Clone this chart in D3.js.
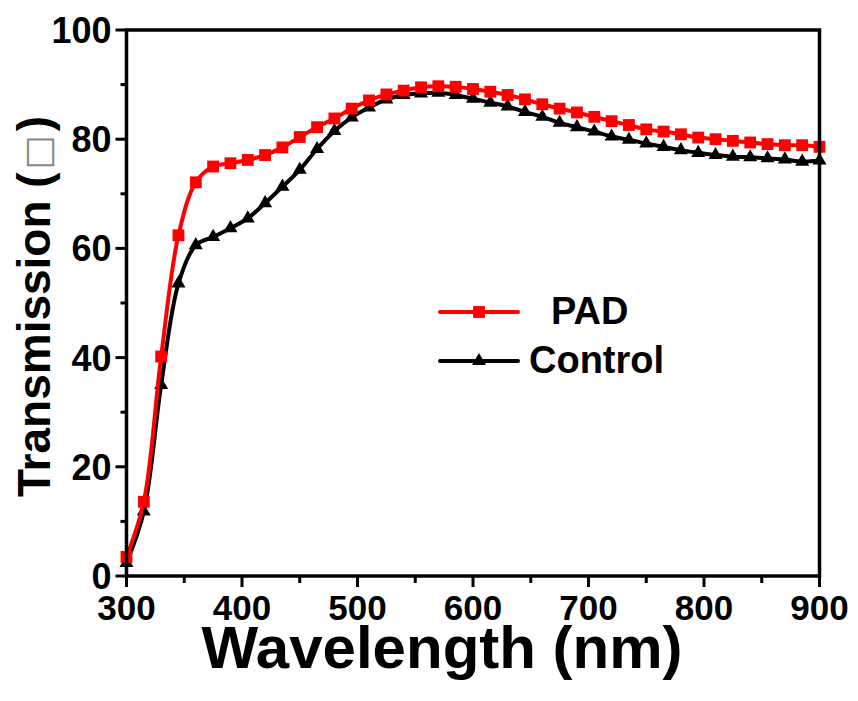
<!DOCTYPE html>
<html>
<head>
<meta charset="utf-8">
<script src="https://cdn.jsdelivr.net/npm/d3@7"></script>
<style>
  body { margin: 0; background: #fff; }
  svg { display: block; font-family: "Liberation Sans", Arial, sans-serif; font-weight: bold; }
</style>
</head>
<body>
<svg id="chart" width="858" height="701"></svg>
<script>
// wavelengths (nm), one marker every 15 nm
const wavelength = [300, 315, 330, 345, 360, 375, 390, 405, 420, 435, 450, 465, 480, 495, 510, 525, 540, 555, 570, 585,
  600, 615, 630, 645, 660, 675, 690, 705, 720, 735, 750, 765, 780, 795, 810, 825, 840, 855, 870, 885, 900];

const pad = [3.5, 13.6, 40.2, 62.4, 72.1, 75.0, 75.6, 76.2, 77.1, 78.5, 80.4, 82.2, 83.8, 85.6, 87.1, 88.2, 88.9, 89.5, 89.7, 89.6,
  89.2, 88.7, 88.1, 87.3, 86.4, 85.6, 84.9, 84.1, 83.3, 82.6, 81.8, 81.4, 80.9, 80.3, 80.0, 79.7, 79.4, 79.1, 78.9, 78.9, 78.6];

const control = [2.4, 11.8, 35.0, 53.6, 60.6, 62.1, 63.7, 65.5, 68.3, 71.3, 74.4, 78.2, 81.5, 84.0, 85.8, 87.3, 88.1, 88.4, 88.5, 88.1,
  87.4, 86.7, 86.0, 85.0, 84.1, 83.0, 82.2, 81.4, 80.5, 79.9, 79.2, 78.6, 78.0, 77.5, 77.1, 76.8, 76.7, 76.5, 76.3, 75.9, 76.1];

const xTicks = [300, 400, 500, 600, 700, 800, 900];
const yTicks = [0, 20, 40, 60, 80, 100];

const svg = d3.select('#chart');

const x = d3.scaleLinear().domain([300, 900]).range([126.5, 819.5]);
const y = d3.scaleLinear().domain([0, 100]).range([576, 30]);

const line = d3.line()
  .x(d => x(d[0]))
  .y(d => y(d[1]))
  .curve(d3.curveCatmullRom);

const series = [
  { name: 'Control', values: control, color: '#000', marker: d3.symbolTriangle, size: 85 },
  { name: 'PAD', values: pad, color: '#ff0000', marker: d3.symbolSquare, size: 140 }
];

// curves + markers (control first so PAD sits on top)
series.forEach(s => {
  const pts = wavelength.map((w, i) => [w, s.values[i]]);
  svg.append('path')
    .attr('d', line(pts))
    .attr('fill', 'none')
    .attr('stroke', s.color)
    .attr('stroke-width', 4);
  svg.append('g').selectAll('path')
    .data(pts)
    .enter().append('path')
    .attr('d', d3.symbol().type(s.marker).size(s.size))
    .attr('transform', d => `translate(${x(d[0])},${y(d[1])})`)
    .attr('fill', s.color);
});

// frame
svg.append('rect')
  .attr('x', x(300)).attr('y', y(100))
  .attr('width', x(900) - x(300)).attr('height', y(0) - y(100))
  .attr('fill', 'none').attr('stroke', '#000').attr('stroke-width', 3.5);

// x axis
const xAxis = svg.append('g').attr('transform', `translate(0,${y(0)})`);
xAxis.selectAll('line.minor')
  .data(d3.range(350, 900, 100))
  .enter().append('line')
  .attr('x1', d => x(d)).attr('x2', d => x(d))
  .attr('y1', 0).attr('y2', 7)
  .attr('stroke', '#000').attr('stroke-width', 3);
xAxis.selectAll('line.major')
  .data(xTicks)
  .enter().append('line')
  .attr('x1', d => x(d)).attr('x2', d => x(d))
  .attr('y1', 0).attr('y2', 11)
  .attr('stroke', '#000').attr('stroke-width', 3);
xAxis.selectAll('text')
  .data(xTicks)
  .enter().append('text')
  .attr('x', d => x(d))
  .attr('y', 44)
  .attr('text-anchor', 'middle')
  .attr('font-size', 35)
  .text(d => d);

// y axis
const yAxis = svg.append('g').attr('transform', `translate(${x(300)},0)`);
yAxis.selectAll('line.minor')
  .data(d3.range(10, 100, 20))
  .enter().append('line')
  .attr('x1', 0).attr('x2', -6)
  .attr('y1', d => y(d)).attr('y2', d => y(d))
  .attr('stroke', '#000').attr('stroke-width', 3);
yAxis.selectAll('line.major')
  .data(yTicks)
  .enter().append('line')
  .attr('x1', 0).attr('x2', -11)
  .attr('y1', d => y(d)).attr('y2', d => y(d))
  .attr('stroke', '#000').attr('stroke-width', 3);
yAxis.selectAll('text')
  .data(yTicks)
  .enter().append('text')
  .attr('x', -15)
  .attr('y', d => y(d))
  .attr('dy', '0.36em')
  .attr('text-anchor', 'end')
  .attr('font-size', 36)
  .text(d => d);

// axis titles
svg.append('text')
  .attr('x', 442).attr('y', 668)
  .attr('text-anchor', 'middle')
  .attr('font-size', 60)
  .text('Wavelength (nm)');

const yTitle = svg.append('text')
  .attr('transform', 'translate(50,497) rotate(-90)')
  .attr('font-size', 46);
yTitle.append('tspan').text('Transmission (');
yTitle.append('tspan')
  .attr('dx', 3)
  .attr('font-weight', 'normal')
  .attr('font-size', 36)
  .attr('fill', '#888')
  .attr('font-family', 'DejaVu Sans')
  .text('\u25A1');
yTitle.append('tspan').attr('dx', 4).text(')');

// legend
const legend = [
  { label: 'PAD', color: '#ff0000', marker: d3.symbolSquare, size: 140, ly: 312, tx: 551 },
  { label: 'Control', color: '#000', marker: d3.symbolTriangle, size: 85, ly: 361, tx: 529 }
];
legend.forEach(l => {
  svg.append('line')
    .attr('x1', 440).attr('x2', 518)
    .attr('y1', l.ly).attr('y2', l.ly)
    .attr('stroke', l.color).attr('stroke-width', 4)
    .attr('stroke-linecap', 'round');
  svg.append('path')
    .attr('d', d3.symbol().type(l.marker).size(l.size))
    .attr('transform', `translate(479,${l.ly})`)
    .attr('fill', l.color);
  svg.append('text')
    .attr('x', l.tx).attr('y', l.ly + 12)
    .attr('font-size', 38)
    .text(l.label);
});
</script>
</body>
</html>
